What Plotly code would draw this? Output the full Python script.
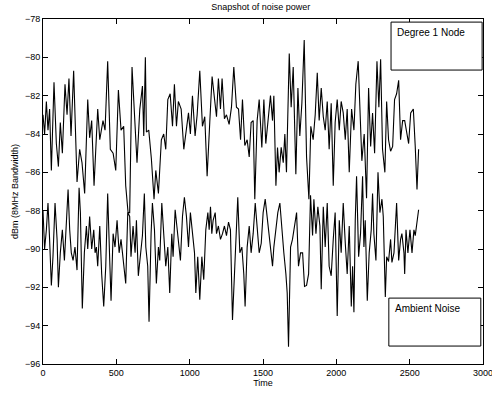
import plotly.graph_objects as go

# Degree 1 Node series (time, dBm)
node_time = [0, 11, 23, 34, 45, 57, 75, 91, 105, 118, 132, 150, 164, 177, 191, 209, 232, 250, 266, 284,
             305, 318, 332, 348, 373, 387, 409, 423, 441, 459, 478, 496, 514, 532, 550, 564, 580, 591, 607, 625,
             641, 660, 678, 687, 698, 705, 721, 739, 757, 769, 787, 807, 823, 837, 851, 867, 883, 896, 910, 923,
             942, 960, 978, 992, 1005, 1019, 1037, 1051, 1069, 1087, 1103, 1119, 1137, 1153, 1167, 1183, 1196, 1210, 1221, 1237,
             1251, 1269, 1285, 1301, 1319, 1333, 1347, 1360, 1376, 1392, 1406, 1419, 1433, 1444, 1460, 1474, 1492, 1506, 1519, 1538,
             1551, 1565, 1574, 1588, 1599, 1610, 1624, 1638, 1649, 1660, 1679, 1692, 1706, 1724, 1738, 1751, 1765, 1781, 1797, 1813,
             1826, 1842, 1856, 1870, 1883, 1897, 1911, 1924, 1938, 1951, 1965, 1979, 1992, 2006, 2020, 2033, 2047, 2061, 2074, 2088,
             2104, 2120, 2133, 2149, 2161, 2174, 2190, 2206, 2220, 2234, 2247, 2261, 2277, 2290, 2302, 2315, 2331, 2343, 2356, 2370,
             2384, 2397, 2411, 2425, 2438, 2452, 2466, 2479, 2493, 2507, 2525, 2538, 2550, 2561]
node_dbm = [-83.0, -84.0, -82.3, -83.8, -82.7, -85.9, -81.3, -84.5, -85.7, -83.4, -85.0, -81.4, -83.0, -81.1, -84.1, -80.7, -86.5, -84.8, -85.5, -87.1,
            -82.2, -84.2, -83.3, -86.7, -82.7, -84.3, -83.3, -83.8, -80.2, -84.8, -85.0, -85.9, -81.7, -83.8, -83.6, -86.7, -88.1, -88.1, -80.5, -83.6,
            -85.5, -82.7, -81.5, -84.1, -80.0, -83.9, -83.8, -85.3, -87.4, -85.9, -87.1, -84.3, -84.0, -84.8, -82.2, -81.9, -83.6, -81.4, -83.6, -82.3,
            -82.7, -84.8, -83.6, -82.9, -84.0, -82.0, -84.1, -83.0, -80.7, -83.6, -83.1, -86.2, -83.4, -81.0, -82.0, -83.1, -81.1, -82.7, -81.1, -83.2,
            -83.0, -83.5, -82.6, -80.5, -82.6, -82.7, -84.3, -82.2, -84.6, -84.3, -85.2, -83.4, -83.3, -87.4, -83.3, -82.2, -84.7, -82.2, -84.5, -83.1,
            -82.0, -83.3, -82.0, -86.7, -84.7, -86.0, -84.7, -85.5, -84.0, -86.0, -79.8, -82.6, -80.5, -86.1, -81.6, -84.1, -82.4, -79.1, -85.2, -87.4,
            -83.6, -84.3, -83.0, -80.8, -83.3, -81.6, -83.1, -83.8, -82.3, -84.8, -82.4, -86.7, -83.4, -82.2, -83.8, -82.3, -82.9, -84.3, -82.7, -86.0,
            -82.7, -83.8, -81.4, -80.2, -82.4, -85.4, -84.0, -87.35, -81.6, -84.65, -82.9, -85.0, -80.2, -82.6, -80.1, -84.8, -86.0, -82.3, -84.3, -84.9,
            -84.65, -82.2, -81.9, -81.2, -84.3, -83.3, -83.3, -84.0, -84.5, -82.9, -82.7, -84.65, -86.9, -84.8]

# Ambient Noise series (time, dBm)
amb_time = [0, 11, 23, 34, 45, 57, 68, 82, 96, 105, 118, 132, 146, 159, 171, 182, 193, 205, 218, 232,
            246, 255, 268, 282, 296, 305, 318, 332, 346, 355, 364, 373, 387, 400, 414, 428, 441, 455, 464, 478,
            491, 505, 519, 532, 546, 564, 578, 591, 600, 614, 628, 637, 650, 664, 678, 691, 701, 714, 723, 737,
            746, 760, 773, 787, 796, 810, 823, 837, 851, 864, 878, 887, 901, 914, 923, 937, 951, 964, 978, 992,
            1005, 1019, 1033, 1042, 1055, 1069, 1083, 1096, 1110, 1124, 1133, 1142, 1151, 1160, 1174, 1183, 1196, 1210, 1224, 1237,
            1251, 1265, 1278, 1292, 1306, 1319, 1328, 1342, 1356, 1369, 1378, 1392, 1406, 1419, 1433, 1447, 1460, 1474, 1488, 1501,
            1515, 1524, 1538, 1551, 1565, 1574, 1588, 1601, 1615, 1629, 1642, 1656, 1665, 1674, 1688, 1701, 1715, 1729, 1742, 1756,
            1770, 1783, 1797, 1811, 1824, 1838, 1847, 1861, 1874, 1888, 1897, 1911, 1924, 1938, 1951, 1965, 1979, 1992, 2006, 2020,
            2033, 2047, 2061, 2074, 2088, 2102, 2111, 2120, 2129, 2138, 2152, 2165, 2179, 2188, 2197, 2211, 2224, 2238, 2247, 2256,
            2270, 2284, 2297, 2311, 2320, 2334, 2343, 2356, 2370, 2379, 2393, 2402, 2411, 2425, 2438, 2447, 2461, 2466, 2475, 2488,
            2502, 2516, 2529, 2538, 2547, 2561]
amb_dbm = [-88.0, -90.0, -89.0, -87.6, -89.5, -91.9, -90.4, -87.6, -89.5, -92.0, -90.2, -89.0, -90.6, -88.5, -86.9, -89.0, -90.2, -90.6, -89.9, -91.1,
           -86.8, -88.1, -93.1, -90.2, -88.8, -90.0, -88.3, -90.0, -89.0, -90.2, -89.9, -90.9, -88.8, -91.3, -93.0, -90.9, -87.1, -90.6, -92.7, -89.2,
           -89.9, -88.5, -90.2, -89.5, -90.6, -91.8, -88.1, -88.3, -90.4, -88.8, -90.2, -88.5, -91.4, -90.2, -89.3, -87.1, -89.9, -90.9, -93.8, -89.2,
           -87.6, -89.0, -91.8, -89.9, -90.6, -87.6, -89.2, -90.9, -89.9, -92.3, -89.2, -90.4, -87.95, -88.8, -89.5, -90.6, -88.3, -87.3, -88.3, -89.9,
           -88.1, -89.2, -90.2, -92.3, -90.4, -92.65, -90.4, -91.6, -89.0, -88.1, -89.0, -87.8, -89.2, -88.5, -88.1, -89.2, -88.8, -89.5, -89.2, -88.8,
           -89.3, -88.6, -89.0, -93.7, -90.9, -89.2, -87.3, -90.2, -89.9, -91.3, -93.0, -89.9, -88.8, -90.2, -89.2, -87.6, -88.8, -90.2, -89.7, -88.1,
           -87.4, -88.1, -89.2, -90.2, -90.9, -89.9, -89.0, -88.1, -87.6, -89.2, -90.2, -91.3, -92.3, -95.1, -89.9, -89.5, -88.8, -88.1, -90.9, -90.2,
           -90.2, -91.95, -91.9, -91.3, -87.2, -89.3, -87.4, -89.2, -87.8, -88.8, -92.1, -87.8, -89.9, -87.6, -90.9, -91.4, -89.5, -88.1, -93.5, -88.5,
           -90.2, -87.6, -89.7, -91.3, -88.8, -93.0, -90.9, -93.3, -88.5, -86.2, -90.4, -89.2, -86.2, -89.9, -88.5, -92.7, -90.2, -89.0, -87.1, -89.2,
           -90.6, -86.0, -88.1, -87.4, -88.3, -92.5, -90.4, -90.65, -89.5, -90.7, -90.2, -89.0, -87.6, -90.6, -89.5, -89.2, -90.2, -91.3, -89.0, -90.2,
           -89.0, -90.2, -89.0, -89.3, -88.65, -87.95]

x_ticks = [0, 500, 1000, 1500, 2000, 2500, 3000]
y_ticks = [-96, -94, -92, -90, -88, -86, -84, -82, -80, -78]

FONT = "Liberation Sans, Arial, Helvetica, sans-serif"

fig = go.Figure()
fig.add_trace(go.Scatter(x=node_time, y=node_dbm, mode="lines",
                         line=dict(color="black", width=1.1), name="Degree 1 Node", showlegend=False))
fig.add_trace(go.Scatter(x=amb_time, y=amb_dbm, mode="lines",
                         line=dict(color="black", width=1.1), name="Ambient Noise", showlegend=False))

axis_common = dict(showgrid=False, zeroline=False, showline=True, linecolor="black", linewidth=1,
                   mirror="ticks", ticks="inside", ticklen=5, tickwidth=1, tickcolor="black",
                   automargin=False, ticklabeloverflow="allow",
                   tickfont=dict(family=FONT, size=9, color="black"))

fig.update_layout(
    width=492, height=393,
    margin=dict(l=43, r=9, t=19, b=29),
    paper_bgcolor="white", plot_bgcolor="white",
    font=dict(family=FONT, size=9, color="black"),
    title=dict(text="Snapshot of noise power", x=0.53, xanchor="center", y=0.99, yanchor="top",
               automargin=False, font=dict(family=FONT, size=9, color="black")),
    xaxis=dict(range=[0, 3000], tickvals=x_ticks, title=dict(text="Time", standoff=1,
               font=dict(family=FONT, size=9)), **axis_common),
    yaxis=dict(range=[-96, -78], tickvals=y_ticks, title=dict(text="dBm (8MHz Bandwidth)", standoff=4,
               font=dict(family=FONT, size=9)), **axis_common),
)

# legend-like text boxes
boxes = [
    ("Degree 1 Node", 0.791, 0.998, 0.852, 0.991),
    ("Ambient Noise", 0.786, 0.995, 0.052, 0.191),
]
for text, x0, x1, y0, y1 in boxes:
    fig.add_shape(type="rect", xref="paper", yref="paper", x0=x0, x1=x1, y0=y0, y1=y1,
                  line=dict(color="black", width=1), fillcolor="white", layer="above")
    fig.add_annotation(xref="paper", yref="paper", x=x0 + 0.01, y=y1 - 0.008, xanchor="left", yanchor="top",
                       text=text, showarrow=False, font=dict(family=FONT, size=10, color="black"))

fig.write_html("out.html", config={"displayModeBar": False},
               post_script="document.body.style.margin='0';document.body.style.padding='0';")
